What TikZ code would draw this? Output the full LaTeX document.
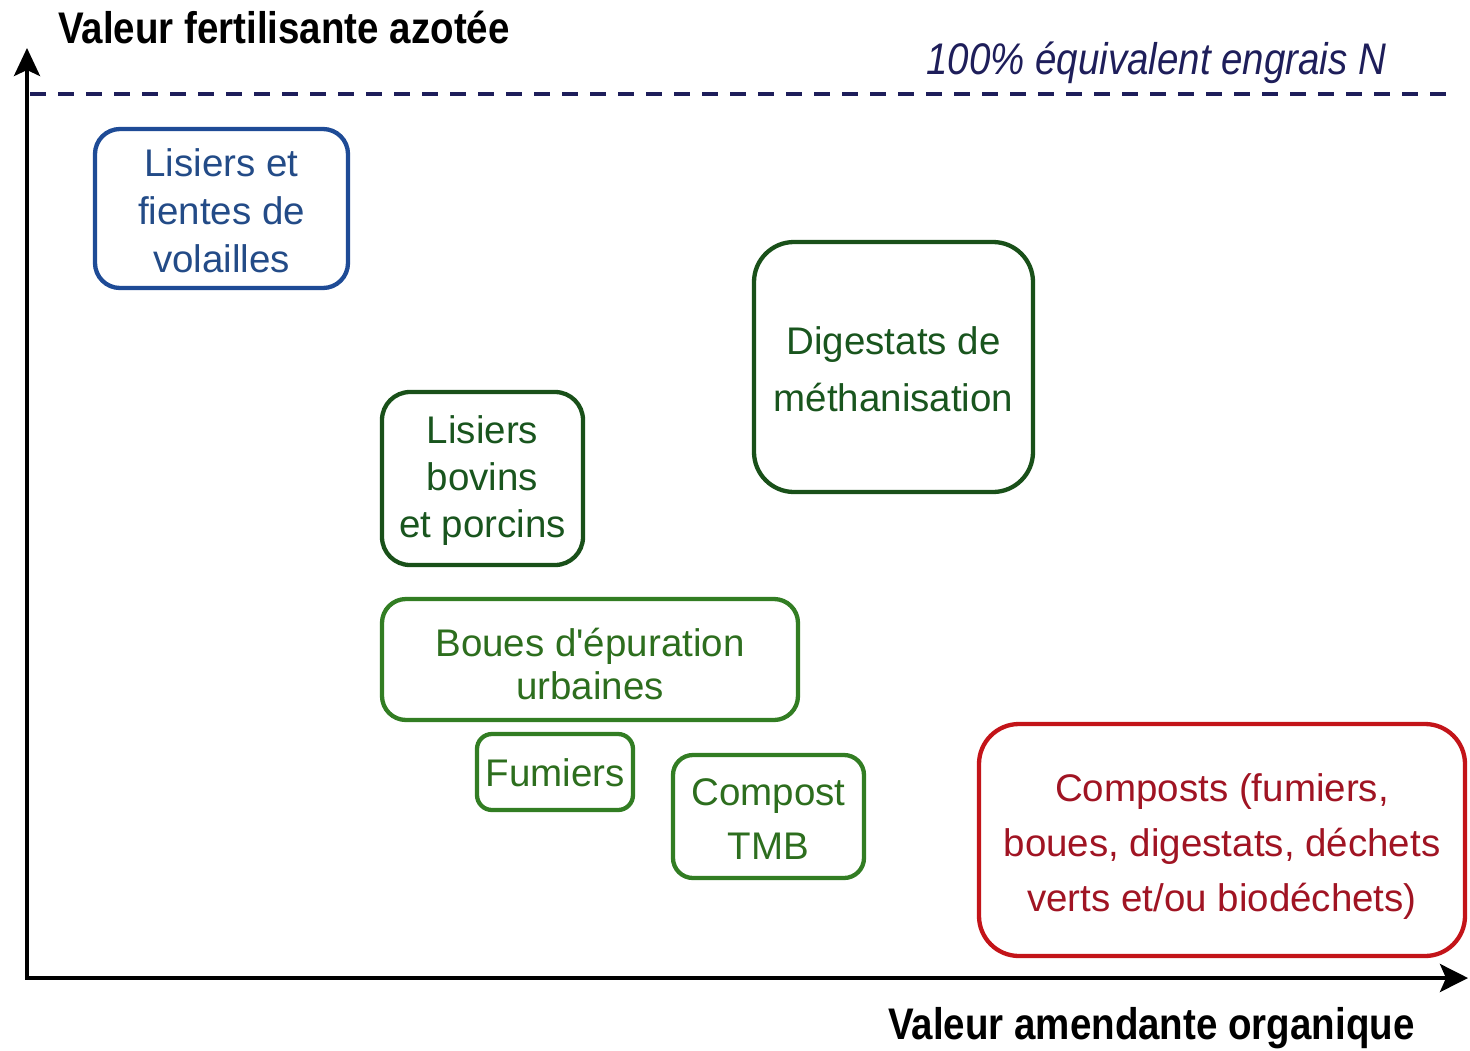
\documentclass[tikz,border=0pt]{standalone}
\usepackage{fontspec}
\setmainfont{Liberation Sans}[Ligatures=TeXOff]
\usetikzlibrary{arrows.meta}
\definecolor{bluebd}{RGB}{30,75,150}
\definecolor{bluetx}{RGB}{35,75,135}
\definecolor{dgreenbd}{RGB}{25,80,25}
\definecolor{dgreentx}{RGB}{25,85,30}
\definecolor{mgreenbd}{RGB}{50,125,35}
\definecolor{mgreentx}{RGB}{45,110,30}
\definecolor{redbd}{RGB}{195,20,25}
\definecolor{redtx}{RGB}{160,20,35}
\definecolor{navy}{RGB}{30,30,90}
\tikzset{
  box/.style={draw, line width=4.3pt, inner sep=0pt},
  txt/.style={align=center, inner sep=0pt, font=\fontsize{38.5}{#1}\selectfont},
  axis/.style={line width=4pt, black, miter limit=10},
  axlabel/.style={anchor=base west, inner sep=0pt, font=\fontsize{38.5}{46}\selectfont\bfseries},
}
\begin{document}
\begin{tikzpicture}[x=1pt,y=-1pt]
\useasboundingbox (0,0) rectangle (1470,1050);
% axes
\coordinate (ytip) at (27,48);
\coordinate (O) at (27,978);
\coordinate (xtip) at (1468,978);
\draw[axis, {Stealth[length=28pt,width=26pt,inset=6pt]}-{Stealth[length=28pt,width=28pt,inset=6pt]}] (ytip) -- (O) -- (xtip);
% dashed 100% line
\coordinate (d1) at (30,94);
\coordinate (d2) at (1455,94);
\draw[navy, line width=3.2pt, dash pattern=on 16pt off 12pt] (d1) -- (d2);
\node[anchor=base west, inner sep=0pt, text=navy, font=\fontsize{38.5}{46}\selectfont\itshape] (ref) at (926,74) {\scalebox{1}[1.15]{100\% équivalent engrais N}};
% axis labels
\node[axlabel] (ylab) at (58,43) {\scalebox{1}[1.15]{Valeur fertilisante azotée}};
\node[axlabel] (xlab) at (888,1039) {\scalebox{1}[1.15]{Valeur amendante organique}};
% boxes
\node[box, draw=bluebd, rounded corners=25pt, minimum width=253pt, minimum height=159pt] (volailles) at (221.5,208.5) {};
\node[txt=48, text=bluetx] (volailles-t) at ([yshift=-2pt]volailles.center) {Lisiers et\\fientes de\\volailles};
\node[box, draw=dgreenbd, rounded corners=28pt, minimum width=201pt, minimum height=173pt] (bovins) at (482.5,478.5) {};
\node[txt=47, text=dgreentx] (bovins-t) at ([yshift=-2pt]bovins.center) {Lisiers\\bovins\\et porcins};
\node[box, draw=dgreenbd, rounded corners=40pt, minimum width=279pt, minimum height=250pt] (digestats) at (893.5,367) {};
\node[txt=57, text=dgreentx] (digestats-t) at ([yshift=-2pt]digestats.center) {Digestats de\\méthanisation};
\node[box, draw=mgreenbd, rounded corners=24pt, minimum width=416pt, minimum height=121pt] (boues) at (590,659.5) {};
\node[txt=43, text=mgreentx] (boues-t) at ([yshift=-5pt]boues.center) {Boues d'épuration\\urbaines};
\node[box, draw=mgreenbd, rounded corners=15pt, minimum width=156pt, minimum height=76pt] (fumiers) at (555,772) {};
\node[txt=46, text=mgreentx] (fumiers-t) at ([yshift=-1pt]fumiers.center) {Fumiers};
\node[box, draw=mgreenbd, rounded corners=20pt, minimum width=191pt, minimum height=123pt] (tmb) at (768.5,816.5) {};
\node[txt=54, text=mgreentx] (tmb-t) at ([yshift=-3pt]tmb.center) {Compost\\TMB};
\node[box, draw=redbd, rounded corners=40pt, minimum width=486pt, minimum height=232pt] (composts) at (1222,840) {};
\node[txt=55, text=redtx] (composts-t) at ([yshift=-7pt]composts.center) {Composts (fumiers,\\boues, digestats, déchets\\verts et/ou biodéchets)};
\end{tikzpicture}
\end{document}
